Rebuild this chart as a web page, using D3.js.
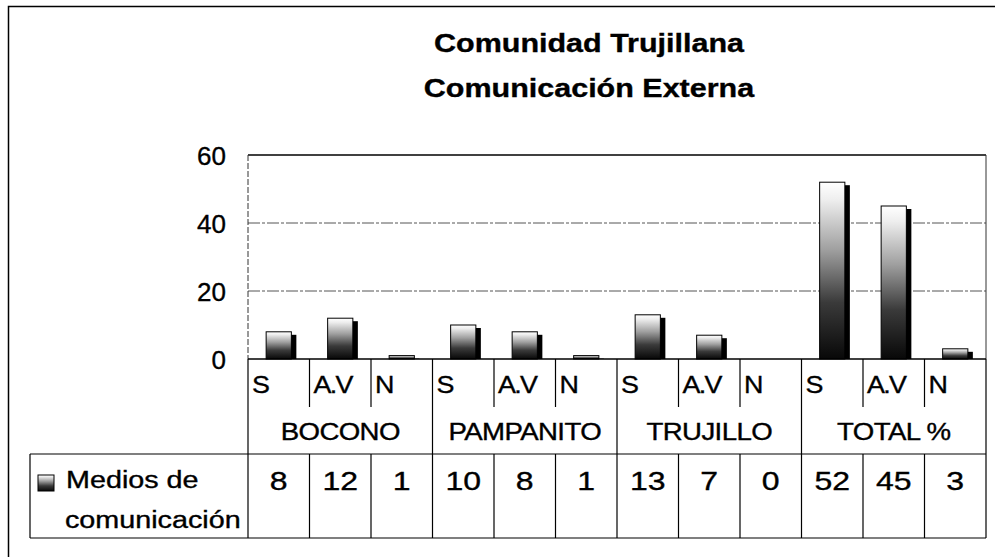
<!DOCTYPE html>
<html><head><meta charset="utf-8">
<script src="https://cdn.jsdelivr.net/npm/d3@7"></script>
<style>body{margin:0;background:#fff}svg{display:block}text{font-family:"Liberation Sans",Arial,sans-serif;fill:#000;stroke:#000;stroke-width:0.35px}</style>
</head><body><svg id="c" width="995" height="557"></svg>
<script>
const groups = ["BOCONO","PAMPANITO","TRUJILLO","TOTAL %"];
const subLabels = ["S","A.V","N"];
const values = [8,12,1,10,8,1,13,7,0,52,45,3];
const yTicks = [0,20,40,60];
const titleLines = ["Comunidad Trujillana","Comunicación Externa"];
const seriesName = ["Medios de","comunicación"];

const svg = d3.select("#c");
const L = 248, R = 986, T = 155, B = 359;
const cats = d3.range(values.length);
const x = d3.scaleBand().domain(cats).range([L,R]).padding(0);
const y = d3.scaleLinear().domain([0,60]).range([B,T]);
const bw = x.bandwidth();
const tr = (px,py,sx)=>`translate(${px},${py}) scale(${sx},1)`;

const defs = svg.append("defs");
const g1 = defs.append("linearGradient").attr("id","bg").attr("x1",0).attr("y1",0).attr("x2",0).attr("y2",1);
[[0,"#ffffff"],[0.1,"#eeeeee"],[0.38,"#a0a0a0"],[0.68,"#3a3a3a"],[1,"#080808"]].forEach(([o,c])=>g1.append("stop").attr("offset",o).attr("stop-color",c));

// outer frame
svg.append("rect").attr("x",8.5).attr("y",6.5).attr("width",1000).attr("height",600).attr("fill","none").attr("stroke","#000").attr("stroke-width",1.5);

// title
svg.append("g").selectAll("text").data(titleLines).join("text")
  .attr("transform",(d,i)=>tr(589,52+i*45,1.22)).attr("text-anchor","middle")
  .attr("font-size",25).attr("font-weight","bold").text(d=>d);

// gridlines
svg.append("g").selectAll("line").data(yTicks.filter(t=>t>0 && t<60)).join("line")
  .attr("x1",L).attr("x2",R).attr("y1",d=>y(d)).attr("y2",d=>y(d))
  .attr("stroke","#555").attr("stroke-width",1).attr("stroke-dasharray","12,2,3,2");
svg.append("line").attr("x1",L).attr("x2",R).attr("y1",y(60)).attr("y2",y(60)).attr("stroke","#000").attr("stroke-width",1.5);
svg.append("line").attr("x1",L).attr("x2",L).attr("y1",T).attr("y2",B).attr("stroke","#333").attr("stroke-dasharray","6,2");
svg.append("line").attr("x1",R).attr("x2",R).attr("y1",T).attr("y2",B).attr("stroke","#333");

// y axis
const ax = svg.append("g").attr("transform",`translate(${L},0)`)
  .call(d3.axisLeft(y).tickValues(yTicks).tickSize(0).tickPadding(22));
ax.select(".domain").remove();
ax.selectAll("text").attr("font-size",26).attr("font-family","Liberation Sans, Arial, sans-serif").attr("dy","0.36em");

// bars
const fw = bw*0.41, off = 5;
const bars = svg.append("g").selectAll("g").data(values).join("g");
bars.append("rect").attr("x",(d,i)=>x(i)+(bw-fw)/2+off).attr("y",d=>Math.min(y(d)+3,B))
  .attr("width",fw).attr("height",d=>Math.max(B-y(d)-3,0)).attr("fill","#000");
bars.append("rect").attr("x",(d,i)=>x(i)+(bw-fw)/2).attr("y",d=>y(d))
  .attr("width",fw).attr("height",d=>B-y(d)).attr("fill","url(#bg)").attr("stroke","#000").attr("stroke-width",1);

// table
const T1 = 407, T2 = 454, T3 = 538, LL = 30;
const tb = svg.append("g").attr("stroke","#000").attr("stroke-width",1.2);
tb.append("line").attr("x1",L).attr("x2",R).attr("y1",B).attr("y2",B).attr("stroke-width",1.5);
tb.append("line").attr("x1",LL).attr("x2",R).attr("y1",T2).attr("y2",T2);
tb.append("line").attr("x1",LL).attr("x2",R).attr("y1",T3).attr("y2",T3);
tb.append("line").attr("x1",LL).attr("x2",LL).attr("y1",T2).attr("y2",T3);
const bounds = d3.range(values.length+1).map(i=> i<values.length ? x(i) : R);
tb.selectAll("line.v").data(bounds).join("line").attr("class","v")
  .attr("x1",d=>d).attr("x2",d=>d)
  .attr("y1",B).attr("y2",(d,i)=> i%3===0 ? T3 : T1);
tb.selectAll("line.v2").data(bounds.filter((d,i)=>i%3!==0)).join("line").attr("class","v2")
  .attr("x1",d=>d).attr("x2",d=>d).attr("y1",T2).attr("y2",T3);

// sub labels
svg.append("g").selectAll("text").data(values).join("text")
  .attr("transform",(d,i)=>tr(x(i)+4,393,1.12)).attr("font-size",24)
  .attr("letter-spacing",(d,i)=>subLabels[i%3]==="A.V"?"-1.5":"0")
  .text((d,i)=>subLabels[i%3]);
// group labels
svg.append("g").selectAll("text").data(groups).join("text")
  .attr("transform",(d,i)=>tr((x(i*3)+(i*3+3<values.length?x(i*3+3):R))/2,440,1.2))
  .attr("text-anchor","middle").attr("font-size",23).attr("letter-spacing","-0.5").text(d=>d);
// values
svg.append("g").selectAll("text").data(values).join("text")
  .attr("transform",(d,i)=>tr(x(i)+bw/2,490,1.28)).attr("text-anchor","middle").attr("font-size",25).text(d=>d);
// legend
svg.append("rect").attr("x",38).attr("y",475).attr("width",16).attr("height",16).attr("fill","url(#bg)").attr("stroke","#000");
svg.append("g").selectAll("text").data(seriesName).join("text")
  .attr("transform",(d,i)=>tr(i===0?66:65,488+i*40,1.25)).attr("font-size",23).text(d=>d);
</script></body></html>
